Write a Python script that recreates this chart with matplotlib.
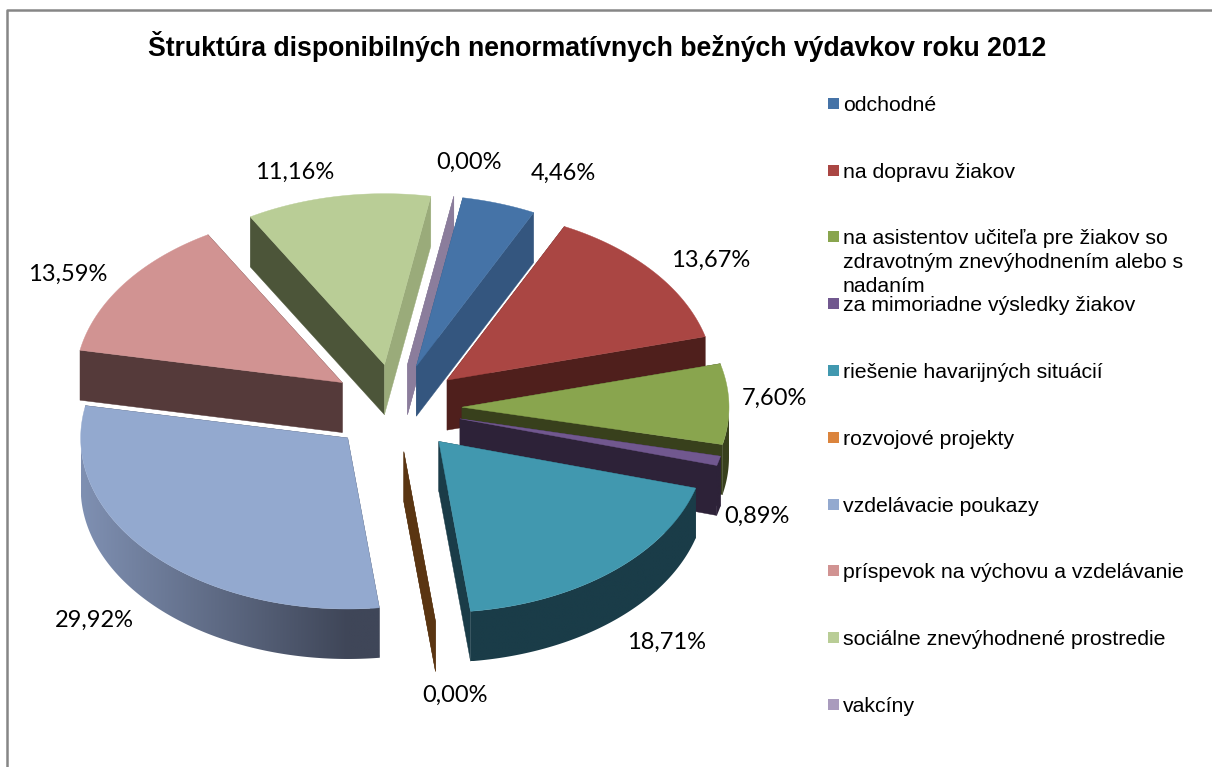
import numpy as np
import matplotlib
matplotlib.use("Agg")
import matplotlib.pyplot as plt
from matplotlib.colors import to_rgb
from matplotlib.patches import Polygon, Rectangle

# data
categories = [
    "odchodné",
    "na dopravu žiakov",
    "na asistentov učiteľa pre žiakov so\nzdravotným znevýhodnením alebo s\nnadaním",
    "za mimoriadne výsledky žiakov",
    "riešenie havarijných situácií",
    "rozvojové projekty",
    "vzdelávacie poukazy",
    "príspevok na výchovu a vzdelávanie",
    "sociálne znevýhodnené prostredie",
    "vakcíny",
]
values = [4.46, 13.67, 7.60, 0.89, 18.71, 0.00, 29.92, 13.59, 11.16, 0.00]
title = "Štruktúra disponibilných nenormatívnych bežných výdavkov roku 2012"

# styles
top_colors = ["#4573a7", "#aa4643", "#89a54e", "#71588f", "#4198af",
              "#db843d", "#93a9cf", "#d19392", "#b9cd96", "#a99bbd"]
start_colors = ["#34567f", "#4f1f1c", "#38401c", "#2d2238", "#1a3c48",
                "#5a3512", "#3f4658", "#553a3a", "#4c5539", "#8b7d9c"]
end_colors = ["#34567f", "#4f1f1c", "#38401c", "#2d2238", "#1a3c48",
              "#5a3512", "#3f4658", "#553a3a", "#9aab7a", "#8b7d9c"]
rim_right = start_colors
rim_left = ["#34567f", "#4f1f1c", "#38401c", "#2d2238", "#1a3c48",
            "#5a3512", "#7f90b2", "#553a3a", "#4c5539", "#8b7d9c"]
draw_order = [8, 9, 0, 7, 1, 2, 3, 6, 5, 4]
label_pos = [(563, 173), (711, 260), (774, 398), (757, 516), (667, 642),
             (455, 695), (94, 620), (68, 274), (295, 172), (469, 162)]
legend_y = [104, 171, 237, 304, 371, 438, 505, 571, 638, 705]

CX, CY = 396, 408      # pie centre in pixels
RX, RY = 267, 171      # ellipse radii
EX, EY = 66, 44        # explosion offset
DEPTH = 50
START_DEG = 10


def point(tip, t):
    # outer point of the ellipse for angle t (clockwise from the top)
    return (tip[0] + RX * np.sin(t), tip[1] - RY * np.cos(t))


def side_quad(a, b):
    # quad between a top edge a-b and the same edge pushed down by DEPTH
    return [a, b, (b[0], b[1] + DEPTH), (a[0], a[1] + DEPTH)]


def draw_rim(ax, i, tip, angles, z):
    # outer rim, only the front part shows. Shaded from left to right.
    front = [a for a in angles if np.cos(a) < 0]
    if len(front) < 2:
        return
    upper = [point(tip, a) for a in front]
    lower = [(x, y + DEPTH) for x, y in upper[::-1]]
    outline = Polygon(upper + lower, fc="none", ec="none",
                      transform=ax.transData)
    ax.add_patch(outline)

    xs = np.linspace(tip[0] - RX, tip[0] + RX, 256)
    left = np.array(to_rgb(rim_left[i]))
    right = np.array(to_rgb(rim_right[i]))
    shade = np.clip((tip[0] - xs) / RX, 0, 1)[:, None]
    grad = (right + (left - right) * shade)[None, :, :]
    ys = [p[1] for p in upper + lower]
    im = ax.imshow(grad, extent=(xs[0], xs[-1], max(ys), min(ys)),
                   aspect="auto", interpolation="bilinear", zorder=z)
    im.set_clip_path(outline)


def draw_slice(ax, i, t0, t1, z):
    mid = (t0 + t1) / 2
    tip = (CX + EX * np.sin(mid), CY - EY * np.cos(mid))

    # the two cut faces
    ax.add_patch(Polygon(side_quad(tip, point(tip, t0)), fc=start_colors[i],
                         ec=start_colors[i], lw=0.3, zorder=z))
    ax.add_patch(Polygon(side_quad(tip, point(tip, t1)), fc=end_colors[i],
                         ec=end_colors[i], lw=0.3, zorder=z))
    if t1 <= t0:
        return

    angles = np.linspace(t0, t1, max(int(np.degrees(t1 - t0)) * 2, 4))
    draw_rim(ax, i, tip, angles, z + 1)

    # top
    arc = [point(tip, a) for a in angles]
    ax.add_patch(Polygon([tip] + arc, fc=top_colors[i], ec=top_colors[i],
                         lw=0.3, zorder=z + 2))


def main():
    fig = plt.figure(figsize=(12.12, 7.67), dpi=100, facecolor="white")
    ax = fig.add_axes([0, 0, 1, 1])
    ax.axis("off")

    # chart frame, runs off the picture at right and bottom
    ax.plot([7, 7, 1212], [767, 10, 10], color="#868686", lw=1.8, zorder=0)

    ax.text(597, 46, title, family="Liberation Sans", weight="bold",
            fontsize=19.2, ha="center", va="center", color="black")

    # slice angles from the values
    total = sum(values)
    edges = np.radians(START_DEG + np.cumsum([0] + values) / total * 360)
    for n, i in enumerate(draw_order):
        draw_slice(ax, i, edges[i], edges[i + 1], 10 + n * 3)

    # value labels
    for v, (x, y) in zip(values, label_pos):
        ax.text(x, y, f"{v:.2f}".replace(".", ",") + "%", family="Lato",
                fontsize=17, ha="center", va="center", color="black",
                zorder=500)

    # legend
    for name, color, y in zip(categories, top_colors, legend_y):
        ax.add_patch(Rectangle((828, y - 6), 11, 11, fc=color, ec="none",
                               zorder=500))
        ax.text(843, y - 8, name, family="Liberation Sans", fontsize=15.35,
                ha="left", va="top", color="black", linespacing=1.34,
                zorder=500)

    ax.set_xlim(0, 1212)
    ax.set_ylim(767, 0)
    fig.savefig("out.png", dpi=100)


if __name__ == "__main__":
    main()
